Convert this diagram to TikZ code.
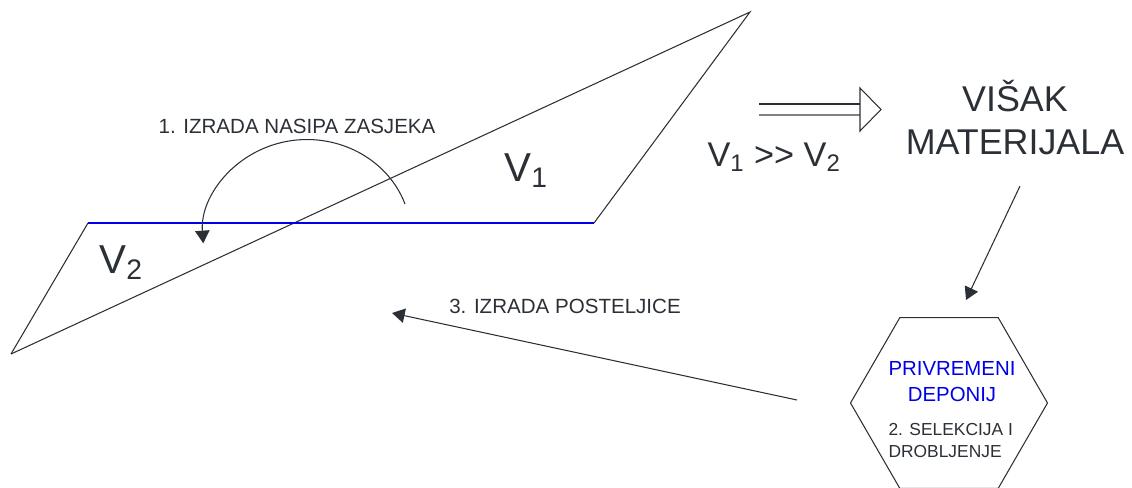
\documentclass[tikz,border=0pt]{standalone}
\usepackage{fontspec}
\setmainfont{Liberation Sans}
\usetikzlibrary{arrows.meta,shapes.geometric,positioning}
\definecolor{ink}{HTML}{2B3036}
\definecolor{cutblue}{HTML}{0000E6}

\begin{document}
\begin{tikzpicture}[x=0.02cm, y=-0.02cm, >={Triangle[length=7.2pt,width=8.2pt]},
    line width=0.6pt, color=ink,
    lbl/.style={font=\fontsize{11.7}{14}\selectfont, inner sep=0pt, anchor=base},
    vol/.style={font=\fontsize{23}{27}\selectfont, inner sep=0pt, anchor=base west}]
    \useasboundingbox (0,0) rectangle (1132,487);

    % Cross-section of cut and fill
    \coordinate (top) at (750,12);
    \coordinate (rgt) at (594,223);
    \coordinate (lft) at (88,223);
    \coordinate (bot) at (11,354);
    \draw (bot) -- (top) -- (rgt);
    \draw[cutblue] (rgt) -- (lft);
    \draw (lft) -- (bot);

    % Volumes
    \node[vol] (v1) at (504,181) {V\textsubscript{1}};
    \node[vol] (v2) at (99,273) {V\textsubscript{2}};

    % Step 1 - cut into fill
    \node[lbl] (nasip) at (297,133) {1. IZRADA NASIPA ZASJEKA};
    \coordinate (cutstart) at (405,204);
    \draw[->] (cutstart) arc[start angle=-19.6, end angle=-184, x radius=104, y radius=97];

    % Double arrow to surplus
    \draw (759,104) -- (860,104);
    \draw[gray] (759,115) -- (860,115);
    \draw[fill=white] (860,88) -- (881,109.5) -- (860,131) -- cycle;
    \node[font=\fontsize{19.5}{23}\selectfont, inner sep=0pt, anchor=base west] (ratio) at (707,166)
        {V\textsubscript{1} >\kern0pt> V\textsubscript{2}};

    % Surplus material
    \node[font=\fontsize{20.4}{24.4}\selectfont, align=center, inner sep=0pt, anchor=base] (visak) at (1015,154)
        {VIŠAK\\MATERIJALA};

    % Temporary depot hexagon
    \node[regular polygon, regular polygon sides=6, draw, minimum size=3.94cm, inner sep=0pt] (depo) at (949,403) {};
    \node[font=\fontsize{11.6}{14.3}\selectfont, text=cutblue, align=center, inner sep=0pt, anchor=base] (privr) at (952,401)
        {PRIVREMENI\\DEPONIJ};
    \node[font=\fontsize{9.9}{12}\selectfont, align=left, inner sep=0pt, anchor=base west] (drob) at (888,457)
        {2. SELEKCIJA I\\DROBLJENJE};

    \coordinate (exA) at (1020,186);
    \coordinate (exB) at (966,300);
    \draw[->] (exA) -- (exB);

    % Step 3 - back to subgrade
    \node[lbl] (postelj) at (565,313) {3. IZRADA POSTELJICE};
    \coordinate (retA) at (797,400);
    \coordinate (retB) at (392,313);
    \draw[->] (retA) -- (retB);
\end{tikzpicture}
\end{document}
